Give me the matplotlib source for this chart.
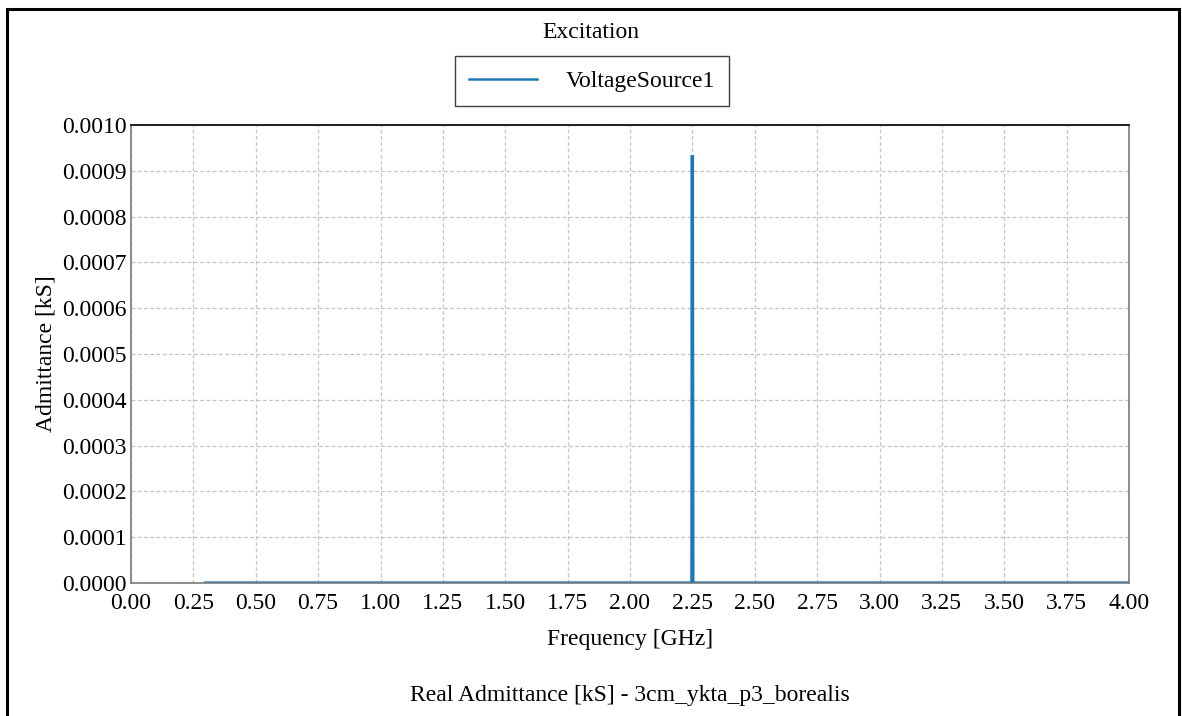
import matplotlib
matplotlib.use("Agg")
import matplotlib.pyplot as plt
from matplotlib.patches import Rectangle

# real part of the port admittance, kS, vs frequency in GHz
freq_ghz = [0.30, 1.00, 2.00, 2.248, 2.25, 2.252, 3.00, 4.00]
real_adm = [0.0, 0.0, 0.0, 0.0, 0.000934, 0.0, 0.0, 0.0]

x_ticks = [0.00, 0.25, 0.50, 0.75, 1.00, 1.25, 1.50, 1.75, 2.00,
           2.25, 2.50, 2.75, 3.00, 3.25, 3.50, 3.75, 4.00]
y_ticks = [0.0000, 0.0001, 0.0002, 0.0003, 0.0004, 0.0005,
           0.0006, 0.0007, 0.0008, 0.0009, 0.0010]

plt.rcParams['font.family'] = ['Liberation Serif', 'DejaVu Serif']
fs = 17

fig = plt.figure(figsize=(11.82, 7.16), dpi=100)
W, H = 1182.0, 716.0
ax = fig.add_axes([131 / W, 1 - 583 / H, (1129 - 131) / W, (583 - 125) / H])

line, = ax.plot(freq_ghz, real_adm, color='#1f77b4', lw=2.4,
                label='VoltageSource1', solid_joinstyle='miter')

ax.set_xlim(0, 4)
ax.set_ylim(0, 0.001)
ax.set_xticks(x_ticks)
ax.set_xticklabels(['%.2f' % v for v in x_ticks])
ax.set_yticks(y_ticks)
ax.set_yticklabels(['%.4f' % v for v in y_ticks])
ax.tick_params(length=0, labelsize=fs, pad=3)
ax.tick_params(axis='x', pad=7)
ax.grid(True, ls=(0, (3, 2)), color='#c4c4c4', lw=0.9)
ax.set_axisbelow(True)

for side in ['left', 'right', 'bottom']:
    ax.spines[side].set_color('#7a7a7a')
    ax.spines[side].set_linewidth(1.2)
ax.spines['top'].set_color('#202020')
ax.spines['top'].set_linewidth(1.4)

ax.set_xlabel('Frequency [GHz]', fontsize=fs, labelpad=11)
ax.set_ylabel('Admittance [kS]', fontsize=fs, labelpad=4)

fig.text(591 / W, 1 - 32 / H, 'Excitation', ha='center', va='center', fontsize=fs)
fig.text(630 / W, 1 - 695 / H, 'Real Admittance [kS] - 3cm_ykta_p3_borealis',
         ha='center', va='center', fontsize=fs)

leg = fig.legend(handles=[line], loc='center', bbox_to_anchor=(592 / W, 1 - 81 / H),
                 fontsize=fs, fancybox=False, framealpha=1, edgecolor='#404040',
                 handlelength=2.9, handletextpad=1.2, borderpad=0.6,
                 borderaxespad=0)
leg.get_frame().set_linewidth(1.0)
leg.get_lines()[0].set_linewidth(1.8)

# outer panel border
fig.add_artist(Rectangle((6.5 / W, -0.05), (1179 - 6.5) / W, 1.05 - 8.5 / H,
                         transform=fig.transFigure, fill=False,
                         edgecolor='black', lw=2.2))

fig.savefig('out.png', dpi=100)
